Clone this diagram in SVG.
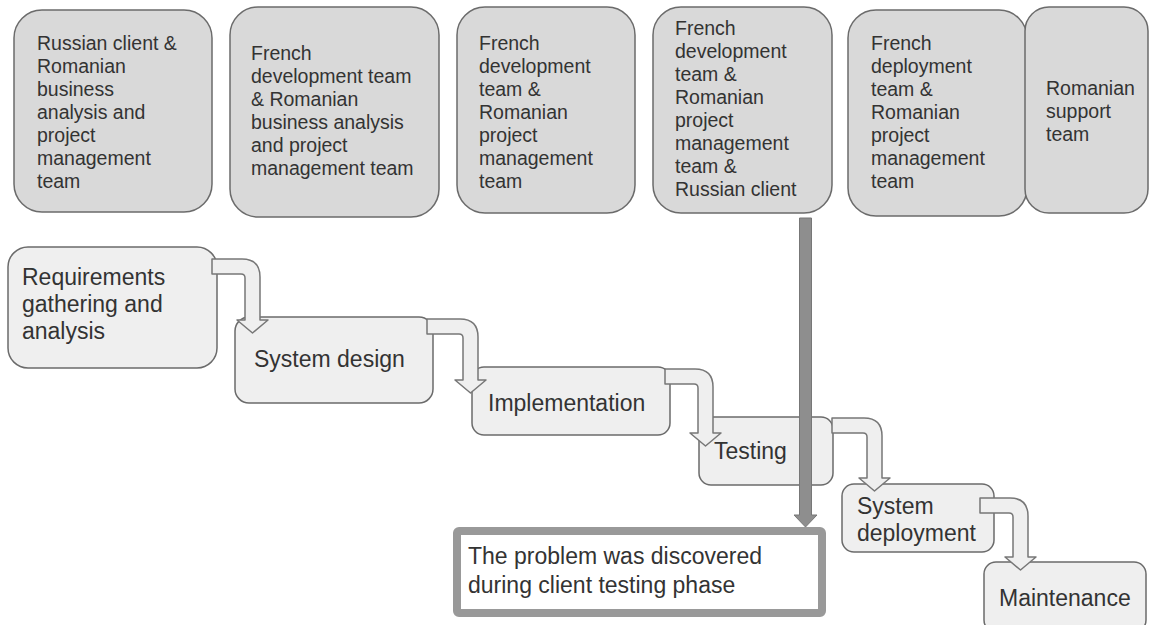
<svg xmlns="http://www.w3.org/2000/svg" width="1150" height="625" viewBox="0 0 1150 625">
<style>
.team{fill:#d9d9d9;stroke:#6b6b6b;stroke-width:1.5}
.phase{fill:#efefef;stroke:#6b6b6b;stroke-width:1.5}
.bent{fill:#efefef;stroke:#777;stroke-width:1.5;stroke-linejoin:round}
.t{font-family:"Liberation Sans",Arial,sans-serif;font-size:19.5px;fill:#333}
.p{font-family:"Liberation Sans",Arial,sans-serif;font-size:23px;fill:#333}
</style>
<rect width="1150" height="625" fill="#ffffff"/>
<g id="team1"><rect class="team" x="14" y="10" width="198" height="202" rx="28"/>
<text class="t"><tspan x="37" y="50">Russian client &amp;</tspan><tspan x="37" y="73">Romanian</tspan><tspan x="37" y="96">business</tspan><tspan x="37" y="119">analysis and</tspan><tspan x="37" y="142">project</tspan><tspan x="37" y="165">management</tspan><tspan x="37" y="188">team</tspan></text></g>
<g id="team2"><rect class="team" x="230" y="7" width="209" height="210" rx="28"/>
<text class="t"><tspan x="251" y="60">French</tspan><tspan x="251" y="83">development team</tspan><tspan x="251" y="106">&amp; Romanian</tspan><tspan x="251" y="129">business analysis</tspan><tspan x="251" y="152">and project</tspan><tspan x="251" y="175">management team</tspan></text></g>
<g id="team3"><rect class="team" x="457" y="7" width="178" height="206" rx="28"/>
<text class="t"><tspan x="479" y="50">French</tspan><tspan x="479" y="73">development</tspan><tspan x="479" y="96">team &amp;</tspan><tspan x="479" y="119">Romanian</tspan><tspan x="479" y="142">project</tspan><tspan x="479" y="165">management</tspan><tspan x="479" y="188">team</tspan></text></g>
<g id="team4"><rect class="team" x="653" y="7" width="179" height="206" rx="28"/>
<text class="t"><tspan x="675" y="35">French</tspan><tspan x="675" y="58">development</tspan><tspan x="675" y="81">team &amp;</tspan><tspan x="675" y="104">Romanian</tspan><tspan x="675" y="127">project</tspan><tspan x="675" y="150">management</tspan><tspan x="675" y="173">team &amp;</tspan><tspan x="675" y="196">Russian client</tspan></text></g>
<g id="team5"><rect class="team" x="848" y="10" width="179" height="206" rx="28"/>
<text class="t"><tspan x="871" y="50">French</tspan><tspan x="871" y="73">deployment</tspan><tspan x="871" y="96">team &amp;</tspan><tspan x="871" y="119">Romanian</tspan><tspan x="871" y="142">project</tspan><tspan x="871" y="165">management</tspan><tspan x="871" y="188">team</tspan></text></g>
<g id="team6"><rect class="team" x="1025" y="7" width="123" height="206" rx="24"/>
<text class="t"><tspan x="1046" y="95">Romanian</tspan><tspan x="1046" y="118">support</tspan><tspan x="1046" y="141">team</tspan></text></g>

<g id="req"><rect class="phase" x="8" y="247" width="209" height="121" rx="20"/>
<text class="p"><tspan x="22" y="285">Requirements</tspan><tspan x="22" y="312">gathering and</tspan><tspan x="22" y="339">analysis</tspan></text></g>
<g id="design"><rect class="phase" x="235" y="317" width="198" height="86" rx="14"/>
<text class="p" x="254" y="367">System design</text></g>
<g id="impl"><rect class="phase" x="472" y="367" width="198" height="68" rx="12"/>
<text class="p" x="488" y="411">Implementation</text></g>
<g id="testing"><rect class="phase" x="699" y="417" width="134" height="68" rx="12"/>
<text class="p" x="714" y="459">Testing</text></g>
<g id="deploy"><rect class="phase" x="842" y="484" width="152" height="68" rx="12"/>
<text class="p"><tspan x="857" y="514">System</tspan><tspan x="857" y="541">deployment</tspan></text></g>
<g id="maint"><rect class="phase" x="984" y="562" width="162" height="70" rx="12"/>
<text class="p" x="999" y="606">Maintenance</text></g>

<g id="connectors">
<path class="bent" d="M212 259 H242 Q260 259 260 277 V320 H268 L252.5 333 L237 320 H245 V278 Q245 274 241 274 H212 Z"/>
<path class="bent" d="M427 319 H460 Q478 319 478 337 V380 H486 L470.5 393 L455 380 H463 V338 Q463 334 459 334 H427 Z"/>
<path class="bent" d="M665 369 H695 Q713 369 713 387 V433 H721 L705.5 446 L690 433 H698 V388 Q698 384 694 384 H665 Z"/>
<path class="bent" d="M832 418 H864 Q882 418 882 436 V478 H890 L874.5 491 L859 478 H867 V437 Q867 433 863 433 H832 Z"/>
<path class="bent" d="M980 498 H1010 Q1028 498 1028 516 V557 H1036 L1020.5 570 L1005 557 H1013 V517 Q1013 513 1009 513 H980 Z"/>
<path d="M799.5 218 H811.5 V515 H817 L805.5 527 L794 515 H799.5 Z" fill="#8e8e8e" stroke="#777" stroke-width="1"/>
</g>

<g id="problem"><rect x="457" y="531" width="365" height="82" rx="2" fill="#ffffff" stroke="#999" stroke-width="8"/>
<text class="p"><tspan x="468" y="564">The problem was discovered</tspan><tspan x="468" y="593">during client testing phase</tspan></text></g>
</svg>
